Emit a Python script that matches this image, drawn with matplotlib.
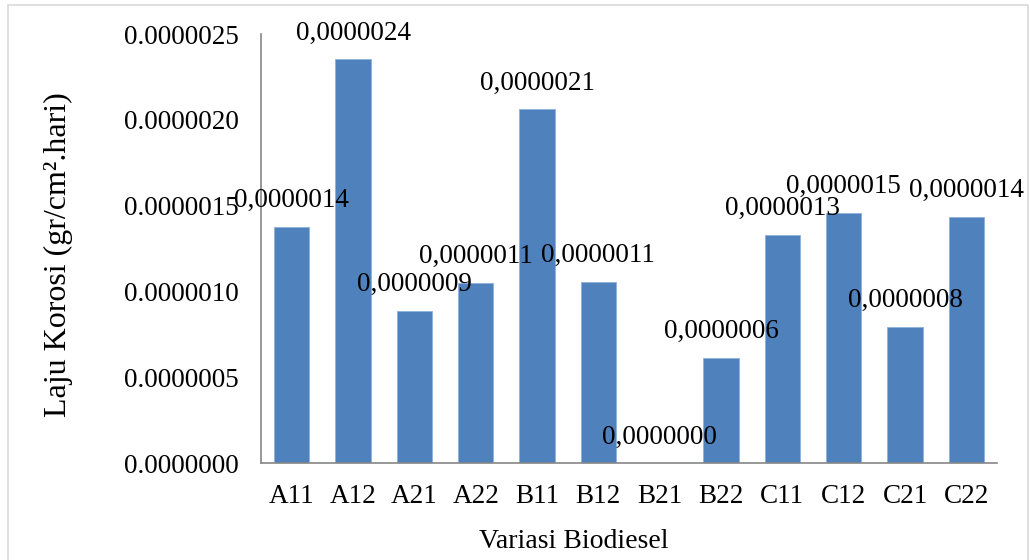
import matplotlib.pyplot as plt
from matplotlib.patches import Rectangle

# data
variasi = ["A11", "A12", "A21", "A22", "B11", "B12", "B21", "B22", "C11", "C12", "C21", "C22"]
laju = [1.378e-6, 2.354e-6, 0.888e-6, 1.051e-6, 2.062e-6, 1.057e-6, 0.0,
        0.613e-6, 1.332e-6, 1.460e-6, 0.794e-6, 1.437e-6]
y_ticks = [0.0, 0.5e-6, 1.0e-6, 1.5e-6, 2.0e-6, 2.5e-6]

plt.rcParams['font.family'] = ['Liberation Serif', 'DejaVu Serif']

fig = plt.figure(figsize=(10.3, 5.6), dpi=100)
ax = fig.add_axes([0.2534, 0.1732, 0.7146, 0.7658])

x = range(len(variasi))
ax.bar(x, laju, width=0.58, color="#4F81BD", edgecolor="#8EB0DA", linewidth=0.6, zorder=2)

# data labels (comma decimal, like the original)
for xi, v in zip(x, laju):
    ax.annotate(f"{v:.7f}".replace(".", ","), (xi, v), xytext=(0, 18.7),
                textcoords="offset points", ha="center", va="center", fontsize=19.5)

ax.set_xlim(-0.5, len(variasi) - 0.5)
ax.set_ylim(0, 2.5e-6)
ax.set_xticks(list(x))
ax.set_xticklabels(variasi)
ax.set_yticks(y_ticks)
ax.set_yticklabels([f"{t:.7f}" for t in y_ticks])
ax.tick_params(axis="both", length=0, labelsize=19.5)
ax.tick_params(axis="y", pad=16)
ax.tick_params(axis="x", pad=15)

for s in ["top", "right"]:
    ax.spines[s].set_visible(False)
for s in ["left", "bottom"]:
    ax.spines[s].set_color("#868686")
    ax.spines[s].set_linewidth(1.2)

ax.set_xlabel("Variasi Biodiesel", fontsize=20)
ax.xaxis.set_label_coords(0.425, -0.155)
ax.set_ylabel("Laju Korosi (gr/cm².hari)", fontsize=23)
ax.yaxis.set_label_coords(-0.255, 0.485)

# faint chart border
fig.patches.append(Rectangle((0.008, -0.02), 0.99, 1.011, transform=fig.transFigure,
                             fill=False, edgecolor="#d9d9d9", linewidth=1.2))

fig.savefig("out.png", dpi=100)
